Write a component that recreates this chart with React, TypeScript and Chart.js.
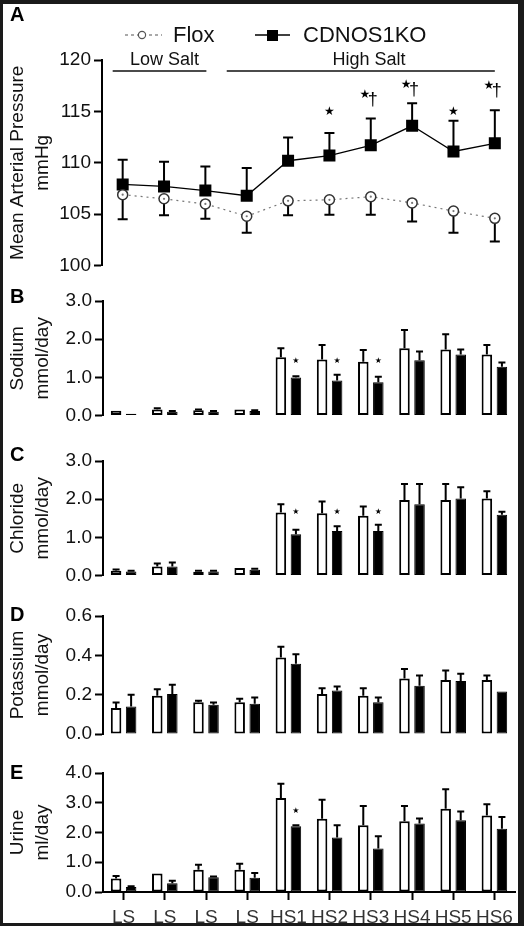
import React, { useEffect, useRef } from "react";
import { Chart, registerables } from "chart.js";

Chart.register(...registerables);
Chart.defaults.font.family = "'Liberation Sans', Arial, Helvetica, sans-serif";
Chart.defaults.color = "#111";

// ---------- data ----------
const categories = ["LS", "LS", "LS", "LS", "HS1", "HS2", "HS3", "HS4", "HS5", "HS6"];

// Panel A: mean arterial pressure (mmHg)
const mapFlox = [106.9, 106.5, 106.0, 104.8, 106.3, 106.4, 106.7, 106.1, 105.3, 104.6];
const mapFloxSem = [2.4, 1.6, 1.45, 1.6, 1.4, 1.45, 1.75, 1.8, 2.1, 2.25];
const mapKO = [107.9, 107.7, 107.3, 106.8, 110.2, 110.7, 111.7, 113.6, 111.1, 111.9];
const mapKOSem = [2.4, 2.4, 2.35, 2.7, 2.25, 2.2, 2.6, 2.2, 3.0, 3.2];
const mapSigLabels = ["", "", "", "", "", "*", "*†", "*†", "*", "*†"];
const mapSigLevels = [0, 0, 0, 0, 0, 115.0, 116.6, 117.6, 115.0, 117.5];
const mapTicks = [100, 105, 110, 115, 120];

// Panel B: sodium (mmol/day)
const sodiumFlox = [0.13, 0.16, 0.14, 0.16, 1.53, 1.47, 1.41, 1.76, 1.73, 1.6];
const sodiumFloxSem = [0, 0.03, 0.02, 0, 0.23, 0.38, 0.31, 0.48, 0.4, 0.25];
const sodiumKO = [0.05, 0.1, 0.1, 0.12, 1.0, 0.92, 0.87, 1.45, 1.6, 1.28];
const sodiumKOSem = [0, 0.02, 0.02, 0.02, 0.03, 0.15, 0.15, 0.23, 0.13, 0.11];
const sodiumStars = [0, 0, 0, 0, 1.44, 1.44, 1.44, 0, 0, 0];

// Panel C: chloride (mmol/day)
const chlorideFlox = [0.13, 0.24, 0.1, 0.2, 1.65, 1.63, 1.57, 1.98, 1.98, 2.02];
const chlorideFloxSem = [0.03, 0.08, 0.03, 0, 0.22, 0.31, 0.24, 0.42, 0.42, 0.19];
const chlorideKO = [0.11, 0.24, 0.11, 0.15, 1.08, 1.17, 1.17, 1.87, 2.02, 1.59];
const chlorideKOSem = [0.02, 0.1, 0.02, 0.03, 0.12, 0.12, 0.16, 0.53, 0.29, 0.08];
const chlorideStars = [0, 0, 0, 0, 1.67, 1.67, 1.67, 0, 0, 0];

// Panel D: potassium (mmol/day)
const potassiumFlox = [0.132, 0.194, 0.162, 0.162, 0.389, 0.203, 0.194, 0.282, 0.275, 0.275];
const potassiumFloxSem = [0.028, 0.034, 0.007, 0.017, 0.055, 0.03, 0.039, 0.048, 0.048, 0.022];
const potassiumKO = [0.14, 0.203, 0.149, 0.154, 0.357, 0.221, 0.162, 0.245, 0.27, 0.216];
const potassiumKOSem = [0.06, 0.047, 0.011, 0.032, 0.049, 0.021, 0.024, 0.052, 0.036, 0];
const potassiumStars = [0, 0, 0, 0, 0, 0, 0, 0, 0, 0];

// Panel E: urine (ml/day)
const urineFlox = [0.45, 0.62, 0.75, 0.75, 3.16, 2.46, 2.24, 2.38, 2.8, 2.57];
const urineFloxSem = [0.09, 0, 0.17, 0.2, 0.48, 0.64, 0.65, 0.51, 0.65, 0.38];
const urineKO = [0.17, 0.29, 0.5, 0.48, 2.21, 1.83, 1.46, 2.3, 2.41, 2.13];
const urineKOSem = [0.02, 0.09, 0.02, 0.16, 0.03, 0.41, 0.41, 0.17, 0.3, 0.39];
const urineStars = [0, 0, 0, 0, 2.72, 0, 0, 0, 0, 0];

const FONT = "'Liberation Sans', Arial, Helvetica, sans-serif";
const STARFONT = "'DejaVu Sans', sans-serif";

// ---------- plugins ----------
function panelLetterPlugin(letter: string, y: number) {
  return {
    id: "panelLetter",
    afterDraw(chart: any) {
      const ctx = chart.ctx;
      ctx.save();
      ctx.fillStyle = "#000";
      ctx.font = `bold 20px ${FONT}`;
      ctx.textAlign = "left";
      ctx.textBaseline = "middle";
      ctx.fillText(letter, 10, y);
      ctx.restore();
    },
  };
}

function barErrorPlugin(errs: number[][], stars: number[]) {
  return {
    id: "barErr",
    afterDatasetsDraw(chart: any) {
      const ctx = chart.ctx;
      const ys = chart.scales.y;
      ctx.save();
      ctx.strokeStyle = "#000";
      ctx.lineWidth = 2;
      chart.data.datasets.forEach((ds: any, di: number) => {
        const meta = chart.getDatasetMeta(di);
        meta.data.forEach((el: any, i: number) => {
          const e = errs[di][i];
          if (!e) return;
          const v = ds.data[i] as number;
          const top = ys.getPixelForValue(v + e);
          const base = ys.getPixelForValue(v);
          ctx.beginPath();
          ctx.moveTo(el.x, base);
          ctx.lineTo(el.x, top);
          ctx.moveTo(el.x - 3.5, top);
          ctx.lineTo(el.x + 3.5, top);
          ctx.stroke();
        });
      });
      const koMeta = chart.getDatasetMeta(1);
      ctx.fillStyle = "#000";
      ctx.font = `8px ${STARFONT}`;
      ctx.textAlign = "center";
      ctx.textBaseline = "middle";
      stars.forEach((lvl, i) => {
        if (!lvl) return;
        const el = koMeta.data[i];
        ctx.fillText("★", el.x, ys.getPixelForValue(lvl));
      });
      ctx.restore();
    },
  };
}

const mapPlugin = {
  id: "mapExtras",
  beforeDatasetsDraw(chart: any) {
    const ctx = chart.ctx;
    const ys = chart.scales.y;
    const sems = [mapFloxSem, mapKOSem];
    const dirs = [-1, 1];
    ctx.save();
    ctx.strokeStyle = "#000";
    ctx.lineWidth = 2;
    chart.data.datasets.forEach((ds: any, di: number) => {
      const meta = chart.getDatasetMeta(di);
      meta.data.forEach((el: any, i: number) => {
        const v = ds.data[i] as number;
        const end = ys.getPixelForValue(v + dirs[di] * sems[di][i]);
        ctx.beginPath();
        ctx.moveTo(el.x, el.y);
        ctx.lineTo(el.x, end);
        ctx.moveTo(el.x - 5, end);
        ctx.lineTo(el.x + 5, end);
        ctx.stroke();
      });
    });
    ctx.restore();
  },
  afterDatasetsDraw(chart: any) {
    const ctx = chart.ctx;
    const xs = chart.scales.x;
    const ys = chart.scales.y;
    ctx.save();
    // center dots of the Flox circles
    ctx.fillStyle = "#777";
    chart.getDatasetMeta(0).data.forEach((el: any) => {
      ctx.beginPath();
      ctx.arc(el.x, el.y, 1.1, 0, Math.PI * 2);
      ctx.fill();
    });
    // significance marks
    ctx.fillStyle = "#000";
    ctx.textBaseline = "middle";
    ctx.textAlign = "center";
    mapSigLabels.forEach((lab, i) => {
      if (!lab) return;
      const x = xs.getPixelForValue(i);
      const y = ys.getPixelForValue(mapSigLevels[i]);
      if (lab === "*") {
        ctx.font = `12px ${STARFONT}`;
        ctx.fillText("★", x, y);
      } else {
        ctx.font = `12px ${STARFONT}`;
        ctx.fillText("★", x - 6, y);
        ctx.font = `18px ${FONT}`;
        ctx.fillText("†", x + 2, y + 5);
      }
    });
    ctx.restore();
  },
  afterDraw(chart: any) {
    const ctx = chart.ctx;
    const xs = chart.scales.x;
    const top = chart.chartArea.top;
    ctx.save();
    // Legend
    ctx.strokeStyle = "#555";
    ctx.lineWidth = 1.2;
    ctx.setLineDash([3, 3]);
    ctx.beginPath();
    ctx.moveTo(125, 35);
    ctx.lineTo(162, 35);
    ctx.stroke();
    ctx.setLineDash([]);
    ctx.fillStyle = "#fff";
    ctx.strokeStyle = "#555";
    ctx.beginPath();
    ctx.arc(142, 35, 3.6, 0, Math.PI * 2);
    ctx.fill();
    ctx.stroke();
    ctx.strokeStyle = "#000";
    ctx.lineWidth = 1.5;
    ctx.beginPath();
    ctx.moveTo(255, 35);
    ctx.lineTo(290, 35);
    ctx.stroke();
    ctx.fillStyle = "#000";
    ctx.fillRect(267, 30, 11, 11);
    ctx.font = `22px ${FONT}`;
    ctx.textAlign = "left";
    ctx.textBaseline = "middle";
    ctx.fillStyle = "#111";
    ctx.fillText("Flox", 173, 36);
    ctx.fillText("CDNOS1KO", 303, 36);
    // Low / High salt brackets
    ctx.font = `18px ${FONT}`;
    ctx.textAlign = "center";
    ctx.lineWidth = 1.5;
    ctx.strokeStyle = "#111";
    const lsA = xs.getPixelForValue(0) - 10;
    const lsB = xs.getPixelForValue(2) + 1;
    const hsA = xs.getPixelForValue(3) - 20;
    const hsB = xs.getPixelForValue(9);
    ctx.beginPath();
    ctx.moveTo(lsA, top + 11);
    ctx.lineTo(lsB, top + 11);
    ctx.moveTo(hsA, top + 11);
    ctx.lineTo(hsB, top + 11);
    ctx.stroke();
    ctx.fillText("Low Salt", (lsA + lsB) / 2 + 5, top);
    ctx.fillText("High Salt", 369, top);
    ctx.restore();
  },
};

// ---------- shared scale helpers ----------
function yAxis(min: number, max: number, step: number, width: number, title: string[], decimals: number) {
  return {
    min,
    max,
    afterFit(scale: any) {
      scale.width = width;
    },
    ticks: {
      stepSize: step,
      padding: 3,
      color: "#111",
      font: { size: 19 },
      callback: (v: any) => Number(v).toFixed(decimals),
    },
    grid: {
      drawOnChartArea: false,
      drawTicks: true,
      tickLength: 8,
      tickWidth: 2,
      tickColor: "#000",
    },
    border: { display: true, color: "#000", width: 2 },
    title: {
      display: true,
      text: title,
      color: "#111",
      font: { size: 19, lineHeight: 1.32 },
      padding: { top: 5.5, bottom: 0 },
    },
  };
}

function barConfig(
  letter: string,
  letterY: number,
  flox: number[],
  floxSem: number[],
  ko: number[],
  koSem: number[],
  stars: number[],
  yMin: number,
  yMax: number,
  step: number,
  title: string[],
  padTop: number,
  padBottom: number,
  showX: boolean
): any {
  return {
    type: "bar",
    data: {
      labels: categories,
      datasets: [
        {
          label: "Flox",
          data: flox,
          backgroundColor: "#fff",
          borderColor: "#000",
          borderWidth: 2,
          borderSkipped: false,
          categoryPercentage: 0.73,
          barPercentage: 0.7,
        },
        {
          label: "CDNOS1KO",
          data: ko,
          backgroundColor: "#000",
          borderColor: "#000",
          borderWidth: 1,
          borderSkipped: false,
          categoryPercentage: 0.73,
          barPercentage: 0.7,
        },
      ],
    },
    options: {
      responsive: false,
      animation: false,
      devicePixelRatio: 1,
      layout: { padding: { top: padTop, bottom: padBottom, left: 0, right: 9 } },
      plugins: { legend: { display: false }, tooltip: { enabled: false } },
      scales: {
        x: {
          display: showX,
          offset: true,
          afterFit(scale: any) {
            if (showX) scale.height = 34;
          },
          ticks: { padding: 6, color: "#333", font: { size: 19 }, autoSkip: false, maxRotation: 0 },
          grid: {
            offset: false,
            drawOnChartArea: false,
            drawTicks: true,
            tickLength: 8,
            tickWidth: 2,
            tickColor: "#000",
          },
          border: { display: true, color: "#000", width: 2 },
        },
        y: yAxis(yMin, yMax, step, 103, title, 1),
      },
    },
    plugins: [barErrorPlugin([floxSem, koSem], stars), panelLetterPlugin(letter, letterY)],
  };
}

function mapConfig(): any {
  return {
    type: "line",
    data: {
      labels: categories,
      datasets: [
        {
          label: "Flox",
          data: mapFlox,
          borderColor: "#777",
          borderWidth: 1.2,
          borderDash: [2, 4],
          pointStyle: "circle",
          pointRadius: 5,
          pointBorderWidth: 1.5,
          pointBorderColor: "#333",
          pointBackgroundColor: "#fff",
          tension: 0,
        },
        {
          label: "CDNOS1KO",
          data: mapKO,
          borderColor: "#000",
          borderWidth: 1.3,
          pointStyle: "rect",
          pointRadius: 8.5,
          pointBorderWidth: 0,
          pointBackgroundColor: "#000",
          pointBorderColor: "#000",
          tension: 0,
        },
      ],
    },
    options: {
      responsive: false,
      animation: false,
      devicePixelRatio: 1,
      layout: { padding: { top: 60, bottom: 13, left: 0, right: 6 } },
      plugins: { legend: { display: false }, tooltip: { enabled: false } },
      scales: {
        x: { display: false, offset: true },
        y: {
          ...yAxis(mapTicks[0], mapTicks[mapTicks.length - 1], 5, 102, ["Mean Arterial Pressure", "mmHg"], 0),
        },
      },
    },
    plugins: [mapPlugin, panelLetterPlugin("A", 15)],
  };
}

function Panel({ top, height, build }: { top: number; height: number; build: () => any }) {
  const ref = useRef<HTMLCanvasElement>(null);
  useEffect(() => {
    const chart = new Chart(ref.current as HTMLCanvasElement, build());
    return () => chart.destroy();
  }, []);
  return (
    <canvas
      ref={ref}
      width={524}
      height={height}
      style={{ position: "absolute", left: 0, top, width: 524, height, display: "block" }}
    />
  );
}

export default function App() {
  return (
    <div style={{ position: "absolute", left: 0, top: 0, width: 524, height: 926, background: "#fff", overflow: "hidden" }}>
      <Panel top={0} height={280} build={mapConfig} />
      <Panel
        top={280}
        height={150}
        build={() =>
          barConfig("B", 17, sodiumFlox, sodiumFloxSem, sodiumKO, sodiumKOSem, sodiumStars, 0, 3, 1, ["Sodium", "mmol/day"], 21, 12, false)
        }
      />
      <Panel
        top={430}
        height={160}
        build={() =>
          barConfig("C", 25, chlorideFlox, chlorideFloxSem, chlorideKO, chlorideKOSem, chlorideStars, 0, 3, 1, ["Chloride", "mmol/day"], 31, 12, false)
        }
      />
      <Panel
        top={590}
        height={160}
        build={() =>
          barConfig("D", 25, potassiumFlox, potassiumFloxSem, potassiumKO, potassiumKOSem, potassiumStars, 0, 0.6, 0.2, ["Potassium", "mmol/day"], 26, 16, false)
        }
      />
      <Panel
        top={750}
        height={176}
        build={() =>
          barConfig("E", 23, urineFlox, urineFloxSem, urineKO, urineKOSem, urineStars, 0, 4, 1, ["Urine", "ml/day"], 23, 0, true)
        }
      />
      <div
        style={{
          position: "absolute",
          left: 0,
          top: 0,
          width: 524,
          height: 926,
          boxSizing: "border-box",
          borderStyle: "solid",
          borderColor: "#1a1a1a",
          borderWidth: "4px 6px 3px 3px",
          pointerEvents: "none",
        }}
      />
    </div>
  );
}
